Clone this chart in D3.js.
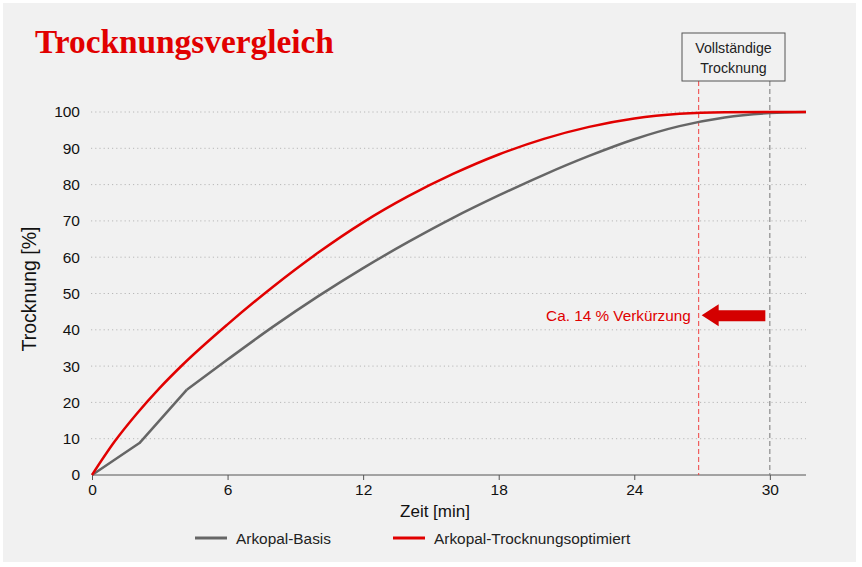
<!DOCTYPE html>
<html><head><meta charset="utf-8">
<script src="https://cdn.jsdelivr.net/npm/d3@7"></script>
<style>
html,body{margin:0;padding:0;background:#fff;}
svg{display:block;}
</style></head>
<body>
<script>
// ---- data ----
const title = "Trocknungsvergleich";
const xTicks = [0, 6, 12, 18, 24, 30];
const yTicks = [0, 10, 20, 30, 40, 50, 60, 70, 80, 90, 100];
const seriesNames = ["Arkopal-Basis", "Arkopal-Trocknungsoptimiert"];
const basisTime  = [0, 2.1, 4.2, 6, 8, 10, 12, 14, 16, 18, 20, 22, 24, 26, 28, 30, 31.6];
const basisValue = [0, 8.8, 23.5, 31.8, 40.8, 49.2, 57.0, 64.2, 70.9, 77.0, 82.7, 87.9, 92.5, 96.1, 98.5, 99.7, 100];
const optTime  = [0, 1, 2, 3, 4, 6, 8, 10, 12, 14, 16, 18, 20, 22, 24, 26, 28, 30, 31.6];
const optValue = [0, 9.2, 17, 24.0, 30.3, 41.5, 51.8, 61.2, 69.6, 76.8, 83.0, 88.3, 92.6, 95.9, 98.2, 99.5, 99.95, 100, 100];
const markerTimes = [26.85, 30];          // optimised / basis full drying
const arrowLevel = 44;                    // arrow height in %
const arrowLabel = "Ca. 14 % Verkürzung";
const boxLines = ["Vollständige", "Trocknung"];
const xLabel = "Zeit [min]";
const yLabel = "Trocknung [%]";

const W = 862, H = 567;
const RED = "#e10000", GRAY = "#666666";
const FONT = "'Liberation Sans', Arial, Helvetica, sans-serif";

const svg = d3.select("body").append("svg").attr("width", W).attr("height", H)
  .style("font-family", FONT);

svg.append("rect").attr("x", 3).attr("y", 3).attr("width", 853).attr("height", 559).attr("fill", "#f1f1f1");

const x = d3.scaleLinear().domain([0, 31.6]).range([92, 806]);
const y = d3.scaleLinear().domain([0, 100]).range([475, 112]);

// title
const t = svg.append("text").attr("x", 35).attr("y", 53)
  .attr("fill", RED).attr("font-family", "'Liberation Serif', 'Times New Roman', serif")
  .attr("font-weight", "bold").attr("font-size", 32).text(title);
const tl = t.node().getComputedTextLength();
if (tl > 0) t.attr("font-size", 32 * 299 / tl);

// gridlines
svg.append("g").selectAll("line").data(yTicks.filter(d => d > 0)).join("line")
  .attr("x1", 91).attr("x2", 806).attr("y1", d => y(d)).attr("y2", d => y(d))
  .attr("stroke", "#b8b8b8").attr("stroke-width", 1).attr("stroke-dasharray", "1.2,3");

// y tick labels
const yAxis = d3.axisLeft(y).tickValues(yTicks).tickSize(0).tickPadding(12);
const gy = svg.append("g").attr("transform", `translate(92,0)`).call(yAxis);
gy.select(".domain").remove();
gy.selectAll("text").attr("font-size", 15.5).attr("fill", "#111").attr("font-family", FONT);

// x axis
const xAxis = d3.axisBottom(x).tickValues(xTicks).tickSize(5).tickPadding(4);
const gx = svg.append("g").attr("transform", `translate(0,475)`).call(xAxis);
gx.select(".domain").attr("stroke", "#555").attr("d", `M${x(0)},0H${x(31.6)}`);
gx.selectAll(".tick line").attr("stroke", "#555");
gx.selectAll("text").attr("font-size", 15.5).attr("fill", "#111").attr("font-family", FONT);

svg.append("text").attr("x", 435).attr("y", 517).attr("text-anchor", "middle")
  .attr("font-size", 17).attr("fill", "#111").text(xLabel);
svg.append("text").attr("transform", "translate(36,289) rotate(-90)").attr("text-anchor", "middle")
  .attr("font-size", 19.5).attr("fill", "#111").text(yLabel);

// marker lines
svg.append("line").attr("x1", x(markerTimes[0])).attr("x2", x(markerTimes[0]))
  .attr("y1", 81).attr("y2", 475).attr("stroke", "#f04040").attr("stroke-width", 1)
  .attr("stroke-dasharray", "5,3");
svg.append("line").attr("x1", x(markerTimes[1])).attr("x2", x(markerTimes[1]))
  .attr("y1", 81).attr("y2", 475).attr("stroke", "#777").attr("stroke-width", 1)
  .attr("stroke-dasharray", "5,3");

// box
svg.append("rect").attr("x", 682).attr("y", 33).attr("width", 103).attr("height", 48)
  .attr("fill", "#f1f1f1").attr("stroke", "#555").attr("stroke-width", 1);
boxLines.forEach((s, i) => svg.append("text").attr("x", 733.5).attr("y", 53 + i * 20)
  .attr("text-anchor", "middle").attr("font-size", 14.2).attr("fill", "#222").text(s));

// curves
const basis = basisTime.map((d, i) => [d, basisValue[i]]);
const opt = optTime.map((d, i) => [d, optValue[i]]);
const lineLin = d3.line().x(d => x(d[0])).y(d => y(d[1]));
const lineSm = d3.line().x(d => x(d[0])).y(d => y(d[1])).curve(d3.curveMonotoneX);

svg.append("path").attr("d", lineLin(basis.slice(0, 3))).attr("fill", "none")
  .attr("stroke", GRAY).attr("stroke-width", 2.5).attr("stroke-linejoin", "round");
svg.append("path").attr("d", lineSm(basis.slice(2))).attr("fill", "none")
  .attr("stroke", GRAY).attr("stroke-width", 2.5).attr("stroke-linejoin", "round");
svg.append("path").attr("d", lineSm(opt)).attr("fill", "none")
  .attr("stroke", RED).attr("stroke-width", 2.5).attr("stroke-linejoin", "round");

// arrow
const ay = y(arrowLevel);
const ax0 = x(markerTimes[0]) + 3, ax1 = x(29.8);
svg.append("path")
  .attr("d", `M${ax0},${ay} L${ax0 + 17},${ay - 11} L${ax0 + 17},${ay - 5} L${ax1},${ay - 5} L${ax1},${ay + 6} L${ax0 + 17},${ay + 6} L${ax0 + 17},${ay + 11} Z`)
  .attr("fill", "#d40000");
svg.append("text").attr("x", x(markerTimes[0]) - 8).attr("y", ay + 5.5).attr("text-anchor", "end")
  .attr("font-size", 15.3).attr("fill", "#e00000").text(arrowLabel);

// legend
const leg = [{n: seriesNames[0], c: GRAY, x: 195}, {n: seriesNames[1], c: RED, x: 393}];
leg.forEach(l => {
  svg.append("line").attr("x1", l.x).attr("x2", l.x + 32).attr("y1", 538).attr("y2", 538)
    .attr("stroke", l.c).attr("stroke-width", 3);
  svg.append("text").attr("x", l.x + 41).attr("y", 543.5).attr("font-size", 15.4)
    .attr("fill", "#222").text(l.n);
});
</script>
</body></html>
